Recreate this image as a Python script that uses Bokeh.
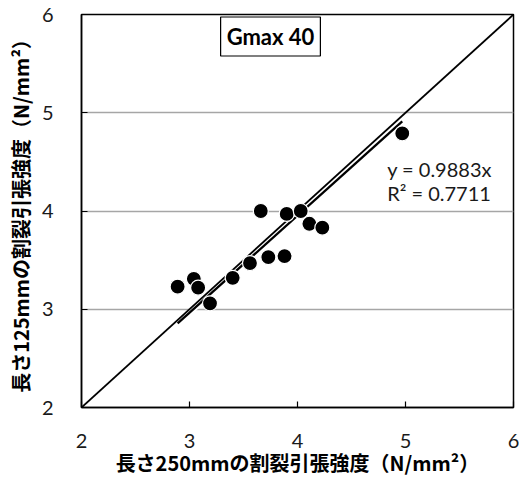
from bokeh.plotting import figure
from bokeh.models import Label, Range1d
from bokeh.embed import file_html
from bokeh.resources import INLINE

# Splitting tensile strength: 250 mm specimens (x) vs 125 mm specimens (y)
x_250 = [2.89, 3.04, 3.08, 3.19, 3.40, 3.56, 3.73, 3.88, 3.66, 3.90, 4.03, 4.11, 4.23, 4.97]
y_125 = [3.23, 3.31, 3.22, 3.06, 3.32, 3.47, 3.53, 3.54, 4.00, 3.97, 4.00, 3.87, 3.83, 4.79]

slope = 0.9883
r2 = 0.7711
ticks = [2, 3, 4, 5, 6]
title_text = "Gmax 40"

p = figure(width=519, height=479, output_backend="svg", toolbar_location=None,
           x_range=Range1d(2, 6), y_range=Range1d(2, 6),
           min_border_left=81, min_border_right=6, min_border_top=14, min_border_bottom=72)

p.background_fill_color = "white"
p.border_fill_color = "white"
p.outline_line_color = "black"
p.outline_line_width = 1.5

tick_font = "Lato"
cjk_font = "Noto Sans CJK JP"

for ax in (p.xaxis, p.yaxis):
    ax.ticker = ticks
    ax.major_tick_in = 6
    ax.major_tick_out = 0
    ax.minor_tick_line_color = None
    ax.axis_line_color = "black"
    ax.axis_line_width = 1.5
    ax.major_tick_line_color = "black"
    ax.major_tick_line_width = 1.2
    ax.major_label_text_font = tick_font
    ax.major_label_text_font_size = "20px"
    ax.major_label_text_color = "#1a1a1a"
    ax.axis_label_text_font = cjk_font
    ax.axis_label_text_font_style = "bold"
    ax.axis_label_text_font_size = "20px"
    ax.axis_label_text_color = "black"

p.xaxis.major_label_standoff = 26
p.yaxis.major_label_standoff = 28
p.xaxis.axis_label = "長さ250mmの割裂引張強度（N/mm²）"
p.yaxis.axis_label = "長さ125mmの割裂引張強度（N/mm²）"
p.xaxis.axis_label_standoff = -3
p.yaxis.axis_label_standoff = 4

p.xgrid.grid_line_color = None
p.ygrid.ticker = ticks
p.ygrid.grid_line_color = "#a6a6a6"
p.ygrid.grid_line_width = 1.5

# regression line through the origin, over the range of the data
x0, x1 = min(x_250), max(x_250)
tx = [x0, x1]
ty = [slope * x0, slope * x1]
p.line(tx, ty, line_color="white", line_width=6)

# 1:1 reference line
p.line([2, 6], [2, 6], line_color="black", line_width=1.8)
p.line(tx, ty, line_color="black", line_width=2.3)

p.scatter(x_250, y_125, size=15, fill_color="black", line_color="white", line_width=1.2)

p.add_layout(Label(x=3.75, y=5.776, text=title_text, text_align="center", text_baseline="middle",
                   text_font=tick_font, text_font_style="bold", text_font_size="22px",
                   text_color="black", border_line_color="black", border_line_width=1.2,
                   background_fill_color="white", padding=6))

p.add_layout(Label(x=4.83, y=4.43, text=f"y = {slope}x", text_align="left", text_baseline="middle",
                   text_font=tick_font, text_font_size="20px", text_color="#1a1a1a"))
p.add_layout(Label(x=4.83, y=4.18, text=f"R² = {r2}", text_align="left", text_baseline="middle",
                   text_font=tick_font, text_font_size="20px", text_color="#1a1a1a"))

open("out.html", "w").write(file_html(p, INLINE))
